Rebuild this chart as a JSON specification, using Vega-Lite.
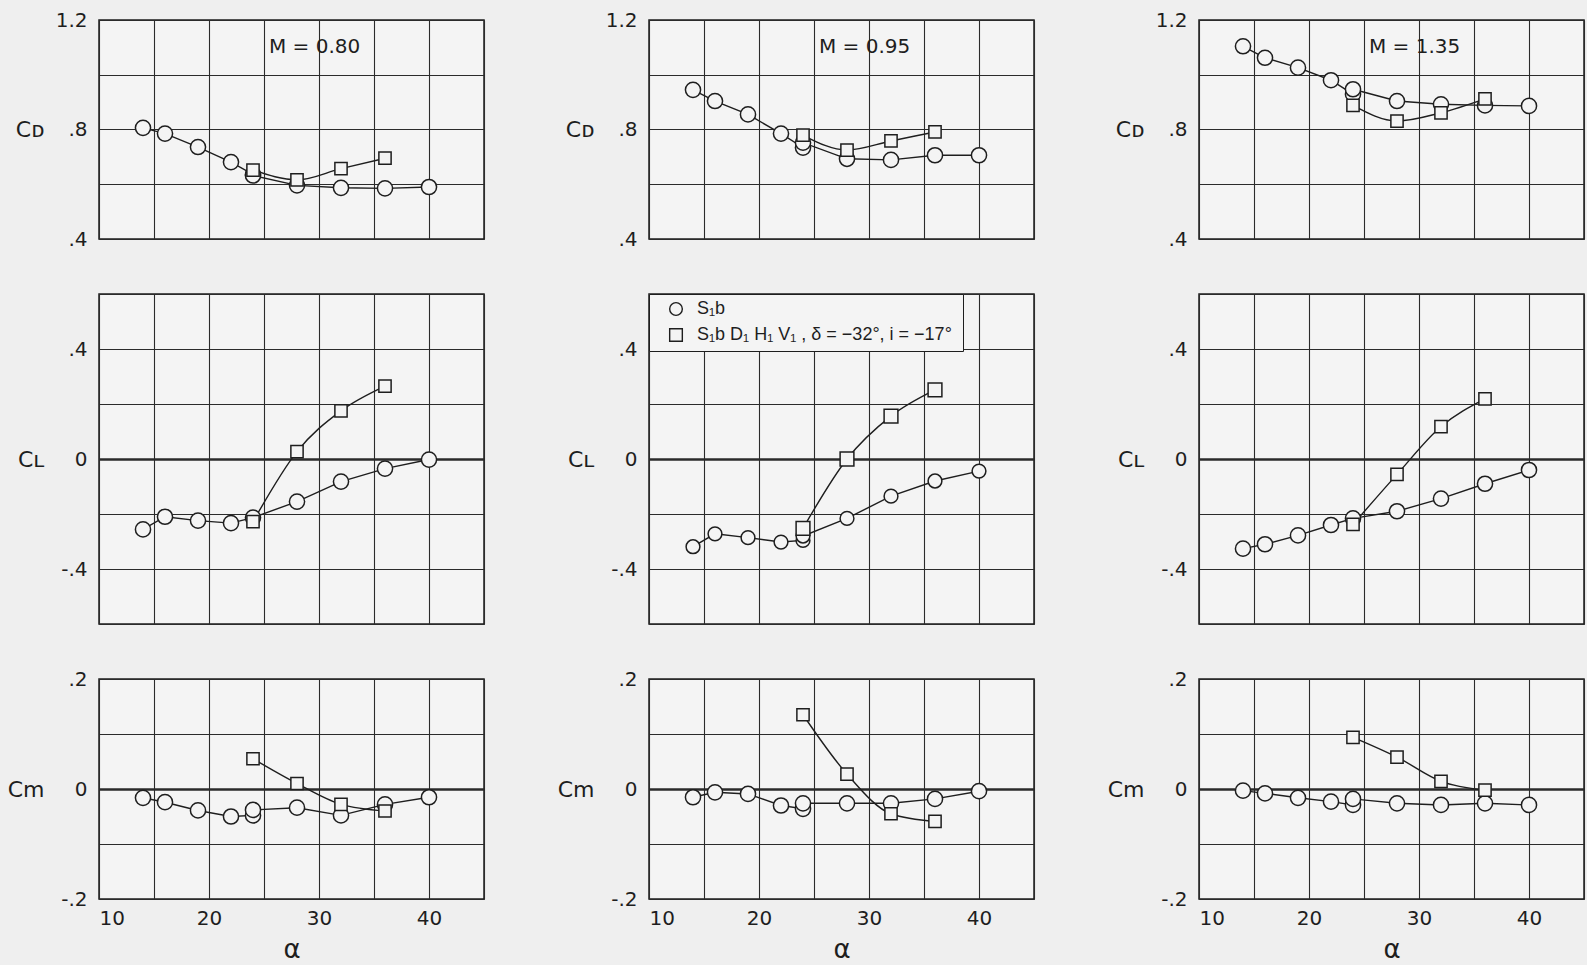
{
  "$schema": "https://vega.github.io/schema/vega-lite/v6.json",
  "background": "#efefef",
  "padding": {"left": 6, "top": 9, "right": 2, "bottom": 2},
  "datasets": {
    "d": [
      {"M":"0.80","c":"CD","s":"A","a":14,"v":0.806},{"M":"0.80","c":"CD","s":"A","a":16,"v":0.785},{"M":"0.80","c":"CD","s":"A","a":19,"v":0.736},{"M":"0.80","c":"CD","s":"A","a":22,"v":0.681},{"M":"0.80","c":"CD","s":"A","a":24,"v":0.636},{"M":"0.80","c":"CD","s":"A","a":24,"v":0.632},{"M":"0.80","c":"CD","s":"A","a":28,"v":0.596},{"M":"0.80","c":"CD","s":"A","a":32,"v":0.587},{"M":"0.80","c":"CD","s":"A","a":36,"v":0.585},{"M":"0.80","c":"CD","s":"A","a":40,"v":0.590},
      {"M":"0.80","c":"CD","s":"B","a":24,"v":0.652},{"M":"0.80","c":"CD","s":"B","a":28,"v":0.616},{"M":"0.80","c":"CD","s":"B","a":32,"v":0.657},{"M":"0.80","c":"CD","s":"B","a":36,"v":0.695},
      {"M":"0.80","c":"CL","s":"A","a":14,"v":-0.256},{"M":"0.80","c":"CL","s":"A","a":16,"v":-0.21},{"M":"0.80","c":"CL","s":"A","a":19,"v":-0.224},{"M":"0.80","c":"CL","s":"A","a":22,"v":-0.233},{"M":"0.80","c":"CL","s":"A","a":24,"v":-0.213},{"M":"0.80","c":"CL","s":"A","a":28,"v":-0.155},{"M":"0.80","c":"CL","s":"A","a":32,"v":-0.082},{"M":"0.80","c":"CL","s":"A","a":36,"v":-0.035},{"M":"0.80","c":"CL","s":"A","a":40,"v":-0.002},
      {"M":"0.80","c":"CL","s":"B","a":24,"v":-0.228},{"M":"0.80","c":"CL","s":"B","a":28,"v":0.027},{"M":"0.80","c":"CL","s":"B","a":32,"v":0.175},{"M":"0.80","c":"CL","s":"B","a":36,"v":0.265},
      {"M":"0.80","c":"Cm","s":"A","a":14,"v":-0.016},{"M":"0.80","c":"Cm","s":"A","a":16,"v":-0.024},{"M":"0.80","c":"Cm","s":"A","a":19,"v":-0.039},{"M":"0.80","c":"Cm","s":"A","a":22,"v":-0.050},{"M":"0.80","c":"Cm","s":"A","a":24,"v":-0.048},{"M":"0.80","c":"Cm","s":"A","a":24,"v":-0.038},{"M":"0.80","c":"Cm","s":"A","a":28,"v":-0.034},{"M":"0.80","c":"Cm","s":"A","a":32,"v":-0.048},{"M":"0.80","c":"Cm","s":"A","a":36,"v":-0.028},{"M":"0.80","c":"Cm","s":"A","a":40,"v":-0.015},
      {"M":"0.80","c":"Cm","s":"B","a":24,"v":0.055},{"M":"0.80","c":"Cm","s":"B","a":28,"v":0.010},{"M":"0.80","c":"Cm","s":"B","a":32,"v":-0.028},{"M":"0.80","c":"Cm","s":"B","a":36,"v":-0.040},

      {"M":"0.95","c":"CD","s":"A","a":14,"v":0.945},{"M":"0.95","c":"CD","s":"A","a":16,"v":0.904},{"M":"0.95","c":"CD","s":"A","a":19,"v":0.855},{"M":"0.95","c":"CD","s":"A","a":22,"v":0.785},{"M":"0.95","c":"CD","s":"A","a":24,"v":0.734},{"M":"0.95","c":"CD","s":"A","a":24,"v":0.752},{"M":"0.95","c":"CD","s":"A","a":28,"v":0.693},{"M":"0.95","c":"CD","s":"A","a":32,"v":0.689},{"M":"0.95","c":"CD","s":"A","a":36,"v":0.706},{"M":"0.95","c":"CD","s":"A","a":40,"v":0.706},
      {"M":"0.95","c":"CD","s":"B","a":24,"v":0.779},{"M":"0.95","c":"CD","s":"B","a":28,"v":0.725},{"M":"0.95","c":"CD","s":"B","a":32,"v":0.758},{"M":"0.95","c":"CD","s":"B","a":36,"v":0.791},
      {"M":"0.95","c":"CL","s":"A","a":14,"v":-0.319},{"M":"0.95","c":"CL","s":"A","a":16,"v":-0.272},{"M":"0.95","c":"CL","s":"A","a":19,"v":-0.286},{"M":"0.95","c":"CL","s":"A","a":22,"v":-0.302},{"M":"0.95","c":"CL","s":"A","a":24,"v":-0.296},{"M":"0.95","c":"CL","s":"A","a":24,"v":-0.280},{"M":"0.95","c":"CL","s":"A","a":28,"v":-0.216},{"M":"0.95","c":"CL","s":"A","a":32,"v":-0.135},{"M":"0.95","c":"CL","s":"A","a":36,"v":-0.080},{"M":"0.95","c":"CL","s":"A","a":40,"v":-0.044},
      {"M":"0.95","c":"CL","s":"B","a":24,"v":-0.252},{"M":"0.95","c":"CL","s":"B","a":28,"v":0.000},{"M":"0.95","c":"CL","s":"B","a":32,"v":0.156},{"M":"0.95","c":"CL","s":"B","a":36,"v":0.251},
      {"M":"0.95","c":"Cm","s":"A","a":14,"v":-0.015},{"M":"0.95","c":"Cm","s":"A","a":16,"v":-0.006},{"M":"0.95","c":"Cm","s":"A","a":19,"v":-0.009},{"M":"0.95","c":"Cm","s":"A","a":22,"v":-0.030},{"M":"0.95","c":"Cm","s":"A","a":24,"v":-0.036},{"M":"0.95","c":"Cm","s":"A","a":24,"v":-0.026},{"M":"0.95","c":"Cm","s":"A","a":28,"v":-0.026},{"M":"0.95","c":"Cm","s":"A","a":32,"v":-0.026},{"M":"0.95","c":"Cm","s":"A","a":36,"v":-0.018},{"M":"0.95","c":"Cm","s":"A","a":40,"v":-0.004},
      {"M":"0.95","c":"Cm","s":"B","a":24,"v":0.135},{"M":"0.95","c":"Cm","s":"B","a":28,"v":0.027},{"M":"0.95","c":"Cm","s":"B","a":32,"v":-0.045},{"M":"0.95","c":"Cm","s":"B","a":36,"v":-0.059},

      {"M":"1.35","c":"CD","s":"A","a":14,"v":1.104},{"M":"1.35","c":"CD","s":"A","a":16,"v":1.062},{"M":"1.35","c":"CD","s":"A","a":19,"v":1.026},{"M":"1.35","c":"CD","s":"A","a":22,"v":0.980},{"M":"1.35","c":"CD","s":"A","a":24,"v":0.929},{"M":"1.35","c":"CD","s":"A","a":24,"v":0.947},{"M":"1.35","c":"CD","s":"A","a":28,"v":0.904},{"M":"1.35","c":"CD","s":"A","a":32,"v":0.892},{"M":"1.35","c":"CD","s":"A","a":36,"v":0.888},{"M":"1.35","c":"CD","s":"A","a":40,"v":0.886},
      {"M":"1.35","c":"CD","s":"B","a":24,"v":0.888},{"M":"1.35","c":"CD","s":"B","a":28,"v":0.831},{"M":"1.35","c":"CD","s":"B","a":32,"v":0.861},{"M":"1.35","c":"CD","s":"B","a":36,"v":0.912},
      {"M":"1.35","c":"CL","s":"A","a":14,"v":-0.326},{"M":"1.35","c":"CL","s":"A","a":16,"v":-0.310},{"M":"1.35","c":"CL","s":"A","a":19,"v":-0.278},{"M":"1.35","c":"CL","s":"A","a":22,"v":-0.240},{"M":"1.35","c":"CL","s":"A","a":24,"v":-0.216},{"M":"1.35","c":"CL","s":"A","a":28,"v":-0.190},{"M":"1.35","c":"CL","s":"A","a":32,"v":-0.144},{"M":"1.35","c":"CL","s":"A","a":36,"v":-0.090},{"M":"1.35","c":"CL","s":"A","a":40,"v":-0.040},
      {"M":"1.35","c":"CL","s":"B","a":24,"v":-0.238},{"M":"1.35","c":"CL","s":"B","a":28,"v":-0.056},{"M":"1.35","c":"CL","s":"B","a":32,"v":0.118},{"M":"1.35","c":"CL","s":"B","a":36,"v":0.219},
      {"M":"1.35","c":"Cm","s":"A","a":14,"v":-0.003},{"M":"1.35","c":"Cm","s":"A","a":16,"v":-0.008},{"M":"1.35","c":"Cm","s":"A","a":19,"v":-0.016},{"M":"1.35","c":"Cm","s":"A","a":22,"v":-0.023},{"M":"1.35","c":"Cm","s":"A","a":24,"v":-0.029},{"M":"1.35","c":"Cm","s":"A","a":24,"v":-0.018},{"M":"1.35","c":"Cm","s":"A","a":28,"v":-0.026},{"M":"1.35","c":"Cm","s":"A","a":32,"v":-0.029},{"M":"1.35","c":"Cm","s":"A","a":36,"v":-0.026},{"M":"1.35","c":"Cm","s":"A","a":40,"v":-0.029},
      {"M":"1.35","c":"Cm","s":"B","a":24,"v":0.094},{"M":"1.35","c":"Cm","s":"B","a":28,"v":0.058},{"M":"1.35","c":"Cm","s":"B","a":32,"v":0.014},{"M":"1.35","c":"Cm","s":"B","a":36,"v":-0.002}
    ],
    "ann": [
      {"M":"0.80","c":"CD","a":29.6,"v":1.1,"t":"M = 0.80"},
      {"M":"0.95","c":"CD","a":29.6,"v":1.1,"t":"M = 0.95"},
      {"M":"1.35","c":"CD","a":29.6,"v":1.1,"t":"M = 1.35"}
    ]
  },
  "data": {"name": "d"},
  "columns": 3,
  "spacing": {"row": 55, "column": 165},
  "bounds": "flush",
  "resolve": {"scale": {"shape": "independent", "size": "independent", "color": "independent"}, "legend": {"shape": "independent", "size": "independent", "color": "independent"}},
  "concat": [
    {
      "width": 385, "height": 219,
      "transform": [{"filter": "datum.M === '0.80' && datum.c === 'CD'"}],
      "encoding": {
        "x": {"field": "a", "type": "quantitative", "scale": {"domain": [10, 45], "nice": false, "zero": false}, "axis": {"values": [10,15,20,25,30,35,40,45], "labels": false, "title": null}},
        "y": {"field": "v", "type": "quantitative", "scale": {"domain": [0.4, 1.2], "nice": false, "zero": false}, "axis": {"values": [0.4,0.6,0.8,1.0,1.2], "labelExpr": "datum.value > 1.1 ? '1.2' : (abs(datum.value - 0.8) < 0.01 ? '.8' : (abs(datum.value - 0.4) < 0.01 ? '.4' : ''))", "title": "Cᴅ"}}
      },
      "layer": [
        {"transform": [{"filter": "datum.s === 'A'"}], "mark": {"type": "line", "interpolate": "linear", "color": "#1e1e1e", "strokeWidth": 1.4}},
        {"transform": [{"filter": "datum.s === 'B'"}], "mark": {"type": "line", "interpolate": "monotone", "color": "#1e1e1e", "strokeWidth": 1.4}},
        {"mark": {"type": "point", "filled": false, "fill": "#f4f4f4", "fillOpacity": 1, "stroke": "#1e1e1e", "strokeWidth": 1.5, "opacity": 1},
         "encoding": {"shape": {"field": "s", "type": "nominal", "scale": {"domain": ["A","B"], "range": ["circle","square"]}, "legend": null},
                      "size": {"field": "s", "type": "nominal", "scale": {"domain": ["A","B"], "range": [230,150]}, "legend": null}}},
        {"data": {"name": "ann"}, "transform": [{"filter": "datum.M === '0.80'"}], "mark": {"type": "text", "font": "DejaVu Sans", "fontSize": 20, "color": "#1e1e1e"}, "encoding": {"text": {"field": "t"}}}
      ]
    },
    {
      "width": 385, "height": 219,
      "transform": [{"filter": "datum.M === '0.95' && datum.c === 'CD'"}],
      "encoding": {
        "x": {"field": "a", "type": "quantitative", "scale": {"domain": [10, 45], "nice": false, "zero": false}, "axis": {"values": [10,15,20,25,30,35,40,45], "labels": false, "title": null}},
        "y": {"field": "v", "type": "quantitative", "scale": {"domain": [0.4, 1.2], "nice": false, "zero": false}, "axis": {"values": [0.4,0.6,0.8,1.0,1.2], "labelExpr": "datum.value > 1.1 ? '1.2' : (abs(datum.value - 0.8) < 0.01 ? '.8' : (abs(datum.value - 0.4) < 0.01 ? '.4' : ''))", "title": "Cᴅ"}}
      },
      "layer": [
        {"transform": [{"filter": "datum.s === 'A'"}], "mark": {"type": "line", "interpolate": "linear", "color": "#1e1e1e", "strokeWidth": 1.4}},
        {"transform": [{"filter": "datum.s === 'B'"}], "mark": {"type": "line", "interpolate": "monotone", "color": "#1e1e1e", "strokeWidth": 1.4}},
        {"mark": {"type": "point", "filled": false, "fill": "#f4f4f4", "fillOpacity": 1, "stroke": "#1e1e1e", "strokeWidth": 1.5, "opacity": 1},
         "encoding": {"shape": {"field": "s", "type": "nominal", "scale": {"domain": ["A","B"], "range": ["circle","square"]}, "legend": null},
                      "size": {"field": "s", "type": "nominal", "scale": {"domain": ["A","B"], "range": [230,150]}, "legend": null}}},
        {"data": {"name": "ann"}, "transform": [{"filter": "datum.M === '0.95'"}], "mark": {"type": "text", "font": "DejaVu Sans", "fontSize": 20, "color": "#1e1e1e"}, "encoding": {"text": {"field": "t"}}}
      ]
    },
    {
      "width": 385, "height": 219,
      "transform": [{"filter": "datum.M === '1.35' && datum.c === 'CD'"}],
      "encoding": {
        "x": {"field": "a", "type": "quantitative", "scale": {"domain": [10, 45], "nice": false, "zero": false}, "axis": {"values": [10,15,20,25,30,35,40,45], "labels": false, "title": null}},
        "y": {"field": "v", "type": "quantitative", "scale": {"domain": [0.4, 1.2], "nice": false, "zero": false}, "axis": {"values": [0.4,0.6,0.8,1.0,1.2], "labelExpr": "datum.value > 1.1 ? '1.2' : (abs(datum.value - 0.8) < 0.01 ? '.8' : (abs(datum.value - 0.4) < 0.01 ? '.4' : ''))", "title": "Cᴅ"}}
      },
      "layer": [
        {"transform": [{"filter": "datum.s === 'A'"}], "mark": {"type": "line", "interpolate": "linear", "color": "#1e1e1e", "strokeWidth": 1.4}},
        {"transform": [{"filter": "datum.s === 'B'"}], "mark": {"type": "line", "interpolate": "monotone", "color": "#1e1e1e", "strokeWidth": 1.4}},
        {"mark": {"type": "point", "filled": false, "fill": "#f4f4f4", "fillOpacity": 1, "stroke": "#1e1e1e", "strokeWidth": 1.5, "opacity": 1},
         "encoding": {"shape": {"field": "s", "type": "nominal", "scale": {"domain": ["A","B"], "range": ["circle","square"]}, "legend": null},
                      "size": {"field": "s", "type": "nominal", "scale": {"domain": ["A","B"], "range": [230,150]}, "legend": null}}},
        {"data": {"name": "ann"}, "transform": [{"filter": "datum.M === '1.35'"}], "mark": {"type": "text", "font": "DejaVu Sans", "fontSize": 20, "color": "#1e1e1e"}, "encoding": {"text": {"field": "t"}}}
      ]
    },
    {
      "width": 385, "height": 330,
      "transform": [{"filter": "datum.M === '0.80' && datum.c === 'CL'"}],
      "encoding": {
        "x": {"field": "a", "type": "quantitative", "scale": {"domain": [10, 45], "nice": false, "zero": false}, "axis": {"values": [10,15,20,25,30,35,40,45], "labels": false, "title": null}},
        "y": {"field": "v", "type": "quantitative", "scale": {"domain": [-0.6, 0.6], "nice": false, "zero": false}, "axis": {"values": [-0.6,-0.4,-0.2,0,0.2,0.4,0.6], "labelExpr": "abs(datum.value - 0.4) < 0.01 ? '.4' : (abs(datum.value) < 0.01 ? '0' : (abs(datum.value + 0.4) < 0.01 ? '-.4' : ''))", "title": "Cʟ", "gridWidth": {"condition": {"test": "abs(datum.value) < 0.001", "value": 2.6}, "value": 1.1}}}
      },
      "layer": [
        {"transform": [{"filter": "datum.s === 'A'"}], "mark": {"type": "line", "interpolate": "linear", "color": "#1e1e1e", "strokeWidth": 1.4}},
        {"transform": [{"filter": "datum.s === 'B'"}], "mark": {"type": "line", "interpolate": "monotone", "color": "#1e1e1e", "strokeWidth": 1.4}},
        {"mark": {"type": "point", "filled": false, "fill": "#f4f4f4", "fillOpacity": 1, "stroke": "#1e1e1e", "strokeWidth": 1.5, "opacity": 1},
         "encoding": {"shape": {"field": "s", "type": "nominal", "scale": {"domain": ["A","B"], "range": ["circle","square"]}, "legend": null},
                      "size": {"field": "s", "type": "nominal", "scale": {"domain": ["A","B"], "range": [230,150]}, "legend": null}}}
      ]
    },
    {
      "width": 385, "height": 330,
      "transform": [{"filter": "datum.M === '0.95' && datum.c === 'CL'"}],
      "encoding": {
        "x": {"field": "a", "type": "quantitative", "scale": {"domain": [10, 45], "nice": false, "zero": false}, "axis": {"values": [10,15,20,25,30,35,40,45], "labels": false, "title": null}},
        "y": {"field": "v", "type": "quantitative", "scale": {"domain": [-0.6, 0.6], "nice": false, "zero": false}, "axis": {"values": [-0.6,-0.4,-0.2,0,0.2,0.4,0.6], "labelExpr": "abs(datum.value - 0.4) < 0.01 ? '.4' : (abs(datum.value) < 0.01 ? '0' : (abs(datum.value + 0.4) < 0.01 ? '-.4' : ''))", "title": "Cʟ", "gridWidth": {"condition": {"test": "abs(datum.value) < 0.001", "value": 2.6}, "value": 1.1}}}
      },
      "layer": [
        {"transform": [{"filter": "datum.s === 'A'"}], "mark": {"type": "line", "interpolate": "linear", "color": "#1e1e1e", "strokeWidth": 1.4}},
        {"transform": [{"filter": "datum.s === 'B'"}], "mark": {"type": "line", "interpolate": "monotone", "color": "#1e1e1e", "strokeWidth": 1.4}},
        {"mark": {"type": "point", "filled": false, "fill": "#f4f4f4", "fillOpacity": 1, "strokeWidth": 1.5, "opacity": 1, "size": 190},
         "encoding": {
           "shape": {"field": "s", "type": "nominal", "scale": {"domain": ["A","B"], "range": ["circle","square"]},
                     "legend": {"title": null, "orient": "top-left", "offset": 0, "padding": 6, "fillColor": "#f4f4f4", "strokeColor": "#1e1e1e", "labelFont": "Liberation Sans", "labelFontSize": 18, "labelColor": "#1e1e1e", "labelLimit": 500, "symbolSize": 160, "symbolStrokeWidth": 1.4, "rowPadding": 6, "labelOffset": 12, "symbolOffset": 12,
                                "labelExpr": "datum.value === 'A' ? 'S₁b' : 'S₁b D₁ H₁ V₁ , δ = −32°,  i = −17°'"}},
           "color": {"field": "s", "type": "nominal", "scale": {"domain": ["A","B"], "range": ["#1e1e1e","#1e1e1e"]},
                     "legend": {"title": null, "orient": "top-left", "offset": 0, "padding": 6, "fillColor": "#f4f4f4", "strokeColor": "#1e1e1e", "labelFont": "Liberation Sans", "labelFontSize": 18, "labelColor": "#1e1e1e", "labelLimit": 500, "symbolSize": 160, "symbolStrokeWidth": 1.4, "rowPadding": 6, "labelOffset": 12, "symbolOffset": 12,
                                "labelExpr": "datum.value === 'A' ? 'S₁b' : 'S₁b D₁ H₁ V₁ , δ = −32°,  i = −17°'"}}
         }}
      ]
    },
    {
      "width": 385, "height": 330,
      "transform": [{"filter": "datum.M === '1.35' && datum.c === 'CL'"}],
      "encoding": {
        "x": {"field": "a", "type": "quantitative", "scale": {"domain": [10, 45], "nice": false, "zero": false}, "axis": {"values": [10,15,20,25,30,35,40,45], "labels": false, "title": null}},
        "y": {"field": "v", "type": "quantitative", "scale": {"domain": [-0.6, 0.6], "nice": false, "zero": false}, "axis": {"values": [-0.6,-0.4,-0.2,0,0.2,0.4,0.6], "labelExpr": "abs(datum.value - 0.4) < 0.01 ? '.4' : (abs(datum.value) < 0.01 ? '0' : (abs(datum.value + 0.4) < 0.01 ? '-.4' : ''))", "title": "Cʟ", "gridWidth": {"condition": {"test": "abs(datum.value) < 0.001", "value": 2.6}, "value": 1.1}}}
      },
      "layer": [
        {"transform": [{"filter": "datum.s === 'A'"}], "mark": {"type": "line", "interpolate": "linear", "color": "#1e1e1e", "strokeWidth": 1.4}},
        {"transform": [{"filter": "datum.s === 'B'"}], "mark": {"type": "line", "interpolate": "monotone", "color": "#1e1e1e", "strokeWidth": 1.4}},
        {"mark": {"type": "point", "filled": false, "fill": "#f4f4f4", "fillOpacity": 1, "stroke": "#1e1e1e", "strokeWidth": 1.5, "opacity": 1},
         "encoding": {"shape": {"field": "s", "type": "nominal", "scale": {"domain": ["A","B"], "range": ["circle","square"]}, "legend": null},
                      "size": {"field": "s", "type": "nominal", "scale": {"domain": ["A","B"], "range": [230,150]}, "legend": null}}}
      ]
    },
    {
      "width": 385, "height": 220,
      "transform": [{"filter": "datum.M === '0.80' && datum.c === 'Cm'"}],
      "encoding": {
        "x": {"field": "a", "type": "quantitative", "scale": {"domain": [10, 45], "nice": false, "zero": false}, "axis": {"values": [10,15,20,25,30,35,40,45], "labelExpr": "datum.value % 10 === 0 ? datum.label : ''", "title": "α"}},
        "y": {"field": "v", "type": "quantitative", "scale": {"domain": [-0.2, 0.2], "nice": false, "zero": false}, "axis": {"values": [-0.2,-0.1,0,0.1,0.2], "labelExpr": "abs(datum.value - 0.2) < 0.01 ? '.2' : (abs(datum.value) < 0.01 ? '0' : (abs(datum.value + 0.2) < 0.01 ? '-.2' : ''))", "title": "Cm", "gridWidth": {"condition": {"test": "abs(datum.value) < 0.001", "value": 2.6}, "value": 1.1}}}
      },
      "layer": [
        {"transform": [{"filter": "datum.s === 'A'"}], "mark": {"type": "line", "interpolate": "linear", "color": "#1e1e1e", "strokeWidth": 1.4}},
        {"transform": [{"filter": "datum.s === 'B'"}], "mark": {"type": "line", "interpolate": "monotone", "color": "#1e1e1e", "strokeWidth": 1.4}},
        {"mark": {"type": "point", "filled": false, "fill": "#f4f4f4", "fillOpacity": 1, "stroke": "#1e1e1e", "strokeWidth": 1.5, "opacity": 1},
         "encoding": {"shape": {"field": "s", "type": "nominal", "scale": {"domain": ["A","B"], "range": ["circle","square"]}, "legend": null},
                      "size": {"field": "s", "type": "nominal", "scale": {"domain": ["A","B"], "range": [230,150]}, "legend": null}}}
      ]
    },
    {
      "width": 385, "height": 220,
      "transform": [{"filter": "datum.M === '0.95' && datum.c === 'Cm'"}],
      "encoding": {
        "x": {"field": "a", "type": "quantitative", "scale": {"domain": [10, 45], "nice": false, "zero": false}, "axis": {"values": [10,15,20,25,30,35,40,45], "labelExpr": "datum.value % 10 === 0 ? datum.label : ''", "title": "α"}},
        "y": {"field": "v", "type": "quantitative", "scale": {"domain": [-0.2, 0.2], "nice": false, "zero": false}, "axis": {"values": [-0.2,-0.1,0,0.1,0.2], "labelExpr": "abs(datum.value - 0.2) < 0.01 ? '.2' : (abs(datum.value) < 0.01 ? '0' : (abs(datum.value + 0.2) < 0.01 ? '-.2' : ''))", "title": "Cm", "gridWidth": {"condition": {"test": "abs(datum.value) < 0.001", "value": 2.6}, "value": 1.1}}}
      },
      "layer": [
        {"transform": [{"filter": "datum.s === 'A'"}], "mark": {"type": "line", "interpolate": "linear", "color": "#1e1e1e", "strokeWidth": 1.4}},
        {"transform": [{"filter": "datum.s === 'B'"}], "mark": {"type": "line", "interpolate": "monotone", "color": "#1e1e1e", "strokeWidth": 1.4}},
        {"mark": {"type": "point", "filled": false, "fill": "#f4f4f4", "fillOpacity": 1, "stroke": "#1e1e1e", "strokeWidth": 1.5, "opacity": 1},
         "encoding": {"shape": {"field": "s", "type": "nominal", "scale": {"domain": ["A","B"], "range": ["circle","square"]}, "legend": null},
                      "size": {"field": "s", "type": "nominal", "scale": {"domain": ["A","B"], "range": [230,150]}, "legend": null}}}
      ]
    },
    {
      "width": 385, "height": 220,
      "transform": [{"filter": "datum.M === '1.35' && datum.c === 'Cm'"}],
      "encoding": {
        "x": {"field": "a", "type": "quantitative", "scale": {"domain": [10, 45], "nice": false, "zero": false}, "axis": {"values": [10,15,20,25,30,35,40,45], "labelExpr": "datum.value % 10 === 0 ? datum.label : ''", "title": "α"}},
        "y": {"field": "v", "type": "quantitative", "scale": {"domain": [-0.2, 0.2], "nice": false, "zero": false}, "axis": {"values": [-0.2,-0.1,0,0.1,0.2], "labelExpr": "abs(datum.value - 0.2) < 0.01 ? '.2' : (abs(datum.value) < 0.01 ? '0' : (abs(datum.value + 0.2) < 0.01 ? '-.2' : ''))", "title": "Cm", "gridWidth": {"condition": {"test": "abs(datum.value) < 0.001", "value": 2.6}, "value": 1.1}}}
      },
      "layer": [
        {"transform": [{"filter": "datum.s === 'A'"}], "mark": {"type": "line", "interpolate": "linear", "color": "#1e1e1e", "strokeWidth": 1.4}},
        {"transform": [{"filter": "datum.s === 'B'"}], "mark": {"type": "line", "interpolate": "monotone", "color": "#1e1e1e", "strokeWidth": 1.4}},
        {"mark": {"type": "point", "filled": false, "fill": "#f4f4f4", "fillOpacity": 1, "stroke": "#1e1e1e", "strokeWidth": 1.5, "opacity": 1},
         "encoding": {"shape": {"field": "s", "type": "nominal", "scale": {"domain": ["A","B"], "range": ["circle","square"]}, "legend": null},
                      "size": {"field": "s", "type": "nominal", "scale": {"domain": ["A","B"], "range": [230,150]}, "legend": null}}}
      ]
    }
  ],
  "config": {
    "font": "DejaVu Sans",
    "view": {"stroke": "#1e1e1e", "strokeWidth": 1.5, "fill": "#f4f4f4"},
    "axis": {"domain": false, "ticks": false, "grid": true, "gridColor": "#2b2b2b", "gridWidth": 1.1, "labelFont": "DejaVu Sans", "labelFontSize": 20, "labelColor": "#1e1e1e", "titleFont": "DejaVu Sans", "titleFontSize": 22, "titleFontWeight": "normal", "titleColor": "#1e1e1e"},
    "axisY": {"titleAngle": 0, "titleAlign": "right", "titleBaseline": "middle", "titlePadding": 7, "labelPadding": 12, "minExtent": 48, "maxExtent": 48},
    "axisX": {"labelPadding": 9, "titlePadding": 8, "titleFontSize": 26}
  }
}
